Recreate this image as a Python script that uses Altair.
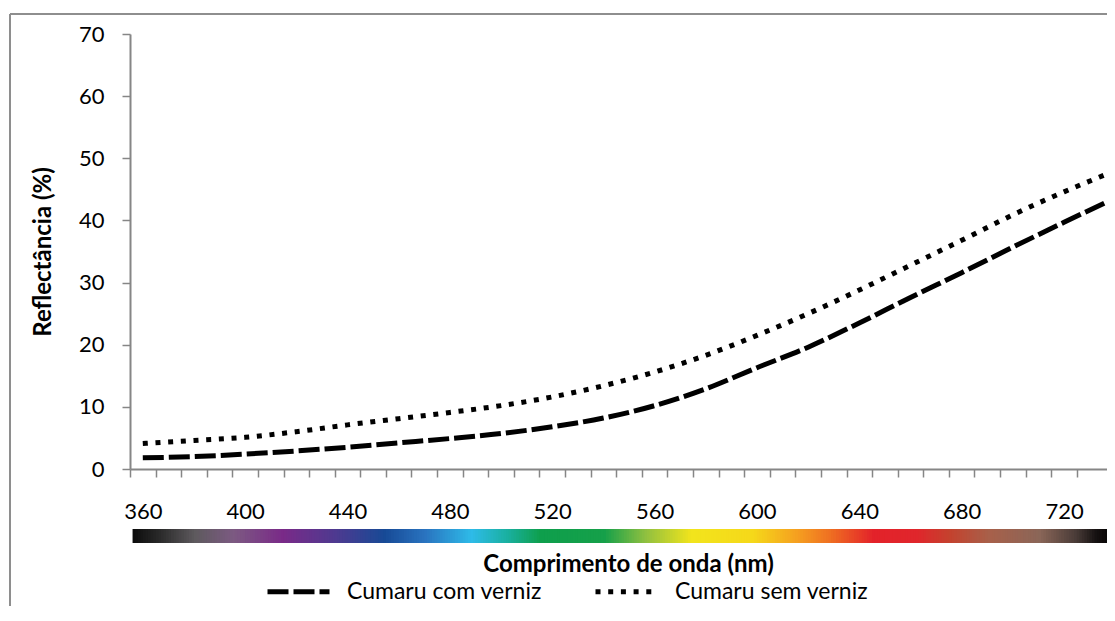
import altair as alt
import pandas as pd
import numpy as np

# ---- data ----
wavelength = [360, 380, 400, 420, 440, 460, 480, 500, 520, 540, 560, 580, 600, 620, 640, 660, 680, 700, 720, 740]
com_verniz = [1.8, 2.0, 2.4, 2.9, 3.5, 4.2, 4.9, 5.7, 6.8, 8.2, 10.2, 12.9, 16.3, 19.6, 23.5, 27.6, 31.6, 35.7, 39.7, 43.6]
sem_verniz = [4.1, 4.6, 5.1, 6.0, 7.1, 8.1, 9.1, 10.2, 11.6, 13.4, 15.6, 18.3, 21.5, 25.0, 28.8, 32.8, 36.8, 40.9, 44.6, 48.0]
series_names = ["Cumaru com verniz", "Cumaru sem verniz"]

x_tick_values = list(range(360, 750, 10))
y_tick_values = [0, 10, 20, 30, 40, 50, 60, 70]

spectrum_nm = [356, 366, 380, 395, 414, 435, 454, 470, 488, 502, 515, 540, 556, 574, 598,
               615, 628, 645, 662, 675, 690, 710, 724, 732, 739]
spectrum_colors = ["#0d0d0d", "#2a2a2a", "#5e5a5e", "#7c5a82", "#7a2a88", "#4e3a90", "#174a96",
                   "#2a74c0", "#2ebbe8", "#1ab0a0", "#0e9f4c", "#16a04a", "#90c040", "#f2e41c",
                   "#f5d81a", "#f5a020", "#ef7022", "#e3222a", "#e0262c", "#c4422e", "#a8604a",
                   "#8a6658", "#4a3c38", "#161212", "#000000"]

FONT = "Lato"
PX_PER_NM = 998 / 390.0        # category width 10 nm = 25.6 px
W, H = 977, 435                # plot area (right part runs to the page edge)
X_MIN = 355
X_MAX = X_MIN + W / PX_PER_NM
half_cat = PX_PER_NM * 5

df = pd.DataFrame({
    "nm": wavelength + wavelength,
    "v": com_verniz + sem_verniz,
    "serie": [series_names[0]] * len(wavelength) + [series_names[1]] * len(wavelength),
})

x_scale = alt.Scale(domain=[X_MIN, X_MAX], nice=False, zero=False)
y_scale = alt.Scale(domain=[0, 70], nice=False, zero=True)

x_axis = alt.Axis(
    values=[v for v in x_tick_values if v - 5 <= X_MAX], format="d",
    tickOffset=-half_cat, labelOffset=half_cat,
    labelExpr="datum.value % 40 == 0 ? datum.label : ''",
    grid=False, tickSize=8, labelPadding=34, labelBaseline="middle",
    labelOverlap=False, labelFlush=False, labelBound=False,
    title="Comprimento de onda (nm)", titleX=498, titleY=95,
    titleBaseline="middle", titleAlign="center",
)

lines = alt.Chart(df).mark_line(
    color="black", strokeWidth=5, interpolate="monotone", strokeCap="butt"
).encode(
    x=alt.X("nm:Q", scale=x_scale, axis=x_axis),
    y=alt.Y("v:Q", scale=y_scale, axis=alt.Axis(
        values=y_tick_values, grid=False, tickSize=8, labelPadding=18,
        title="Reflectância (%)", titleX=-87, titleY=H / 2, titleAngle=270,
        titleAlign="center", titleBaseline="middle",
    )),
    strokeDash=alt.StrokeDash("serie:N", scale=alt.Scale(
        domain=series_names, range=[[21, 5], [5, 7.7]]),
        legend=alt.Legend(
            title=None, orient="none", legendX=135, legendY=524,
            direction="horizontal", symbolType="stroke", symbolSize=3844,
            symbolStrokeWidth=5, symbolStrokeColor="black",
            labelFont=FONT, labelFontSize=23, labelColor="black", labelLimit=600,
            labelOffset=15, columnPadding=43, padding=0,
        )),
)

spec_df = pd.DataFrame({"nm": np.arange(spectrum_nm[0], spectrum_nm[-1], 1.0)})
spectrum = alt.Chart(spec_df).transform_calculate(
    nm2="min(datum.nm + 2, 739)"
).mark_rect().encode(
    x=alt.X("nm:Q", scale=x_scale, axis=x_axis),
    x2="nm2:Q",
    y=alt.value(H + 60),
    y2=alt.value(H + 74),
    color=alt.Color("nm:Q", scale=alt.Scale(domain=spectrum_nm, range=spectrum_colors,
                                            interpolate="rgb"), legend=None),
)

frame_df = pd.DataFrame({"a": [0]})
frame_left = alt.Chart(frame_df).mark_rule(color="#8e8e8e", strokeWidth=2).encode(
    x=alt.value(-120), y=alt.value(-20), y2=alt.value(700))
frame_top = alt.Chart(frame_df).mark_rule(color="#8e8e8e", strokeWidth=2).encode(
    x=alt.value(-120), x2=alt.value(1100), y=alt.value(-20))

chart = alt.layer(spectrum, lines, frame_left, frame_top).properties(
    width=W, height=H,
    autosize=alt.AutoSizeParams(type="none"),
    padding={"left": 122, "top": 26, "right": 0, "bottom": 137},
    background="white",
).configure_view(stroke=None).configure_axis(
    labelFont=FONT, labelFontSize=22, labelColor="black",
    titleFont=FONT, titleFontSize=24, titleFontWeight="bold", titleColor="black",
    domainColor="#868686", tickColor="#868686", domainWidth=2, tickWidth=1.5,
)

chart.save("out.html", embed_options={"renderer": "svg", "actions": False})
